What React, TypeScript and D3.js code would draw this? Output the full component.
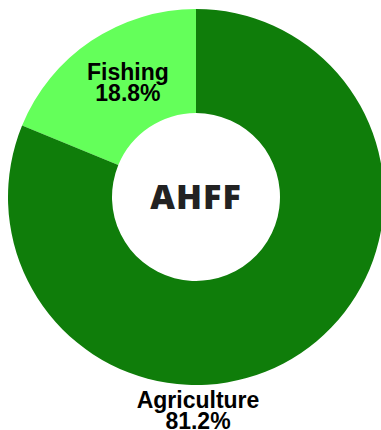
import React from "react";
import * as d3 from "d3";

const categories = ["Fishing", "Agriculture"];
const shares = [18.8, 81.2];
const colors = ["#64ff5a", "#0f7d0a"];
const centerTitle = "AHFF";

const width = 381;
const height = 430;
const cx = 196;
const cy = 197;
const outerR = 188;
const innerR = 84;

export default function App() {
  // Fishing sits just left of 12 o'clock; Agriculture fills the rest clockwise.
  const fishAngle = (shares[0] / 100) * 2 * Math.PI;
  const slices = d3
    .pie<number>()
    .sort(null)
    .startAngle(-fishAngle)
    .endAngle(2 * Math.PI - fishAngle)
    .value((d) => d)(shares);
  const arc = d3.arc<d3.PieArcDatum<number>>().innerRadius(innerR).outerRadius(outerR);
  const labelArc = d3.arc<d3.PieArcDatum<number>>().innerRadius(133).outerRadius(133);

  const fishPos = labelArc.centroid(slices[0]);
  const fx = fishPos[0] + 6;
  const fy = fishPos[1] - 6.5;

  return (
    <svg
      width={width}
      height={height}
      style={{ position: "fixed", left: 0, top: 0, background: "#fff" }}
    >
      <g transform={`translate(${cx},${cy})`}>
        {slices.map((s, i) => (
          <path key={categories[i]} d={arc(s) || ""} fill={colors[i]} />
        ))}
        <text
          x={0}
          y={0}
          dy="0.36em"
          textAnchor="middle"
          fontFamily="'Open Sans', sans-serif"
          fontWeight={800}
          fontSize={34}
          letterSpacing={1}
          fill="#222"
        >
          {centerTitle}
        </text>
        <g
          fontFamily="'Liberation Sans', Arial, sans-serif"
          fontWeight="bold"
          fontSize={23}
          fill="#000"
          textAnchor="middle"
        >
          <text x={fx} y={fy}>
            <tspan x={fx}>{categories[0]}</tspan>
            <tspan x={fx} dy={21}>{`${shares[0]}%`}</tspan>
          </text>
          <text x={2} y={outerR + 23}>
            <tspan x={2}>{categories[1]}</tspan>
            <tspan x={2} dy={21}>{`${shares[1]}%`}</tspan>
          </text>
        </g>
      </g>
    </svg>
  );
}
